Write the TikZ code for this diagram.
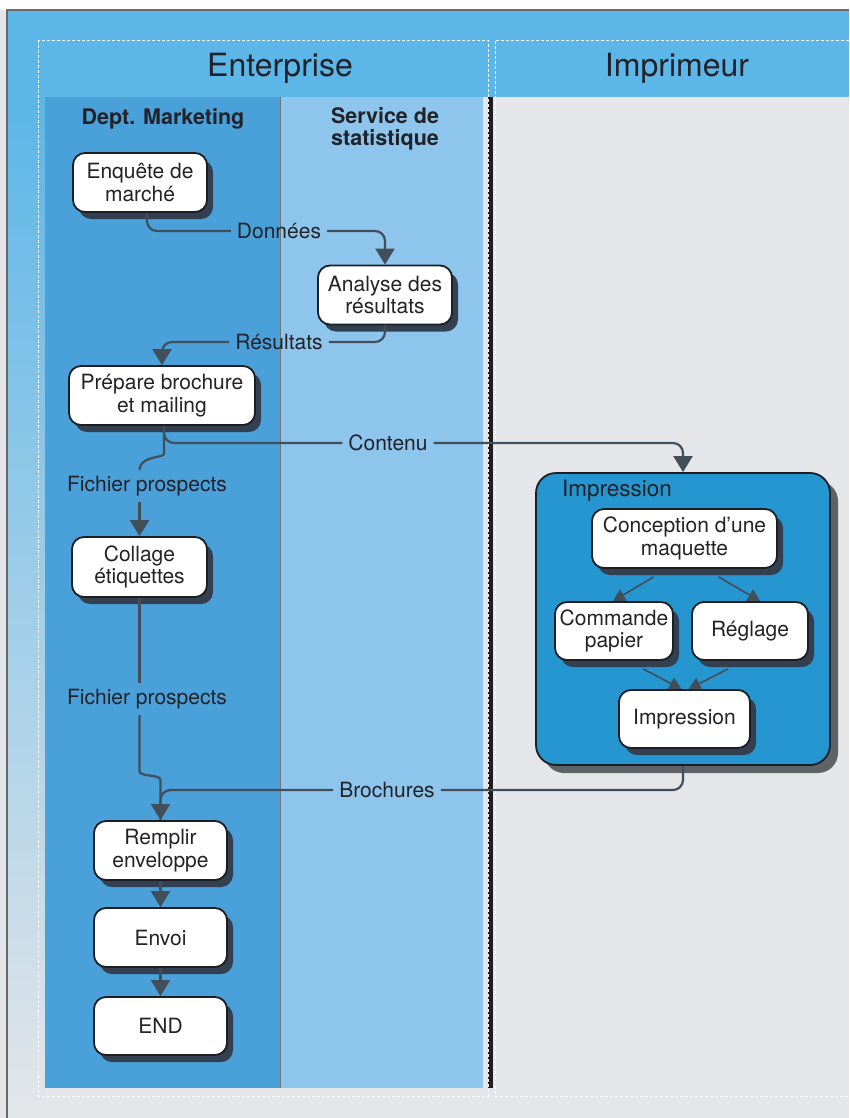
\documentclass[tikz,border=0pt]{standalone}
\usepackage{fontspec}
\setmainfont{TeX Gyre Heros}
\usepackage{tikz}
\usetikzlibrary{arrows.meta, shadows, positioning}
\tikzset{>=stealth}

\definecolor{paper}{RGB}{228,230,233}
\definecolor{bandc}{RGB}{92,182,232}
\definecolor{mktc}{RGB}{74,160,216}
\definecolor{statc}{RGB}{141,197,236}
\definecolor{impc}{RGB}{38,150,208}
\definecolor{inkc}{RGB}{28,30,34}
\definecolor{textc}{RGB}{34,34,40}
\definecolor{arrowc}{RGB}{66,78,90}
\definecolor{shadowc}{RGB}{50,64,82}
\definecolor{impshadow}{RGB}{95,98,102}
\definecolor{framec}{RGB}{105,105,108}

\tikzset{
  proc/.style={draw=inkc, line width=1.8pt, fill=white, rounded corners=12pt,
    align=center, minimum width=134pt, minimum height=59pt, inner sep=2pt,
    text=textc, font=\fontsize{21}{22.5}\selectfont,
    drop shadow={shadow xshift=6pt, shadow yshift=-7pt, fill=shadowc, opacity=1}},
  impbox/.style={draw=inkc, line width=1.8pt, fill=impc, rounded corners=20pt,
    minimum width=294pt, minimum height=292pt,
    drop shadow={shadow xshift=8pt, shadow yshift=-8pt, fill=impshadow, opacity=1}},
  headtxt/.style={text=textc, font=\fontsize{32}{36}\selectfont},
  lanetxt/.style={text=textc, align=center, font=\bfseries\fontsize{21.5}{22}\selectfont},
  flowlab/.style={text=textc, inner xsep=6pt, inner ysep=3pt, font=\fontsize{21}{22}\selectfont},
  flowline/.style={draw=arrowc, line width=2.2pt, rounded corners=10pt},
  flowarr/.style={flowline, -{Triangle[width=19pt,length=16pt]}},
  subarr/.style={draw=arrowc, line width=1.6pt, -{Triangle[width=13pt,length=12pt]}},
  dashframe/.style={draw=white, line width=0.8pt, dash pattern=on 3pt off 2pt}
}

\begin{document}
\begin{tikzpicture}[x=1pt, y=-1pt]
\useasboundingbox (0,0) rectangle (849,1118);

% paper and lanes
\fill[paper] (0,0) rectangle (849,1118);
\fill[white] (0,0) rectangle (849,10);
\fill[bandc] (7,10) rectangle (849,97);
\shade[top color=bandc, bottom color=paper] (7,97) rectangle (45,1118);
\draw[framec, line width=1.5pt] (7,1118) -- (7,10) -- (849,10);
\fill[mktc] (45,97) rectangle (280,1088);
\fill[statc] (280,97) rectangle (483,1088);
\draw[black!55, line width=0.8pt] (280,97) -- (280,1088);
\fill[black!88] (487.5,97) rectangle (492.5,1088);
\draw[dashframe] (38,40) rectangle (488,1096);
\draw[dashframe] (849,40) -- (495,40) -- (495,1096) -- (849,1096);

% headers
\node[headtxt] (ent) at (280,68) {Enterprise};
\node[headtxt] (imprim) at (677,68) {Imprimeur};
\node[lanetxt] (mkt) at (163,119) {Dept. Marketing};
\node[lanetxt] (stat) at (385,129) {Service de\\statistique};

% marketing / statistique
\node[proc] (enq) at (140,182.5) {Enquête de\\marché};
\node[proc] (ana) at (385,295) {Analyse des\\résultats};
\node[proc, minimum width=186pt] (prep) at (162,395.5) {Prépare brochure\\et mailing};
\node[proc, minimum width=135pt, minimum height=60pt] (coll) at (139.5,567) {Collage\\étiquettes};
\node[proc, minimum width=133pt] (rempl) at (160.5,850.5) {Remplir\\enveloppe};
\node[proc, minimum width=133pt] (envoi) at (160.5,937.5) {Envoi};
\node[proc, minimum width=133pt, minimum height=58pt] (fin) at (160.5,1026) {END};

% imprimeur
\node[impbox] (imp) at (683,619) {};
\node[text=textc, font=\fontsize{22.5}{24}\selectfont] (impt) at (617,491) {Impression};
\node[proc, minimum width=185pt] (conc) at (684.5,538.5) {Conception d’une\\maquette};
\node[proc, minimum width=118pt, minimum height=58pt] (cmd) at (614,631) {Commande\\papier};
\node[proc, minimum width=116pt, minimum height=58pt] (regl) at (750,631) {Réglage};
\node[proc, minimum width=131pt, minimum height=58pt] (impr) at (684.5,719) {Impression};

\draw[subarr] ([xshift=-31pt,yshift=-8pt]conc.south) -- ([xshift=-1pt]cmd.north);
\draw[subarr] ([xshift=34pt,yshift=-8pt]conc.south) -- ([xshift=10pt]regl.north);
\draw[subarr] ([xshift=29pt,yshift=-8pt]cmd.south) -- ([xshift=-3pt]impr.north);
\draw[subarr] ([xshift=-22pt,yshift=-8pt]regl.south) -- ([xshift=4pt]impr.north);

% flows with labels
\node[flowlab] (don) at (279,231) {Données};
\draw[flowline] ([xshift=7pt]enq.south) |- (don.west);
\draw[flowarr] (don.east) -| (ana.north);

\node[flowlab] (res) at (279,342) {Résultats};
\draw[flowline] (ana.south) |- (res.east);
\draw[flowarr] (res.west) -| (prep.north);

\node[flowlab] (cont) at (388,443) {Contenu};
\draw[flowline] ([xshift=2pt]prep.south) |- (cont.west);
\draw[flowarr] (cont.east) -| (imp.north);

\node[flowlab, inner ysep=6pt] (fp1) at (147,486) {Fichier prospects};
\draw[flowline] ([xshift=2pt]prep.south) -- ++(0,18)
  .. controls +(0,14) and +(0,-14) .. (coll.north |- fp1.north);
\draw[flowarr] (coll.north |- fp1.south) -- (coll.north);

\node[flowlab] (bro) at (387,790) {Brochures};
\node[flowlab, inner ysep=6pt] (fp2) at (147,699) {Fichier prospects};
\draw[flowline] (coll.south) -- (coll.south |- fp2.north);
\draw[flowarr] (coll.south |- fp2.south) -- ++(0,46)
  .. controls +(0,16) and +(0,-16) .. (rempl.north |- bro.west) -- (rempl.north);
\draw[flowline] (imp.south) |- (bro.east);
\draw[flowline] (bro.west) -| (rempl.north);

\draw[flowarr] (rempl.south) -- (envoi.north);
\draw[flowarr] (envoi.south) -- (fin.north);
\end{tikzpicture}
\end{document}
